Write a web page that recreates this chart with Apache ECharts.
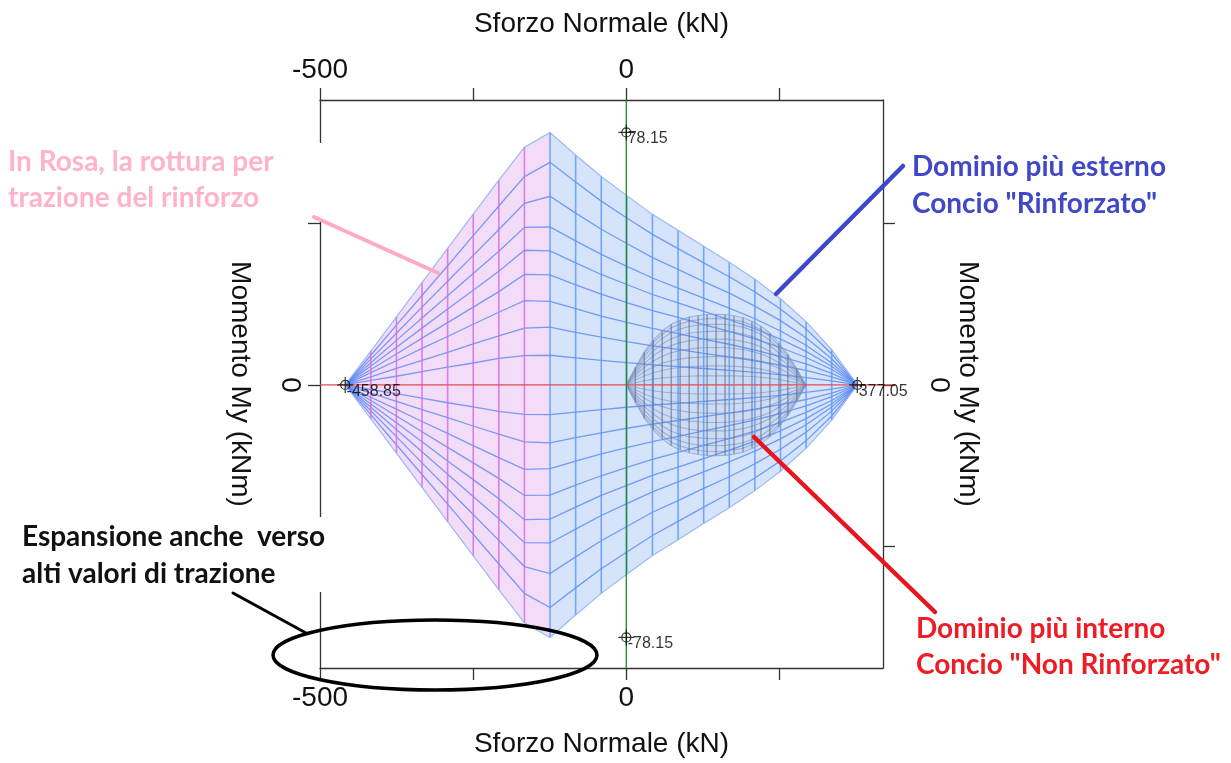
<!DOCTYPE html>
<html><head><meta charset="utf-8">
<script src="https://cdn.jsdelivr.net/npm/echarts@6/dist/echarts.min.js"></script>
<style>html,body{margin:0;padding:0;background:#fff}#c{width:1231px;height:763px}</style>
</head><body><div id="c"></div>
<script>
// ---- outer domain ("Rinforzato"): columns of constant N (kN) ----
const outerN = [-458.85, -417.06, -375.26, -333.47, -291.67, -249.88, -208.08, -166.29, -124.49, -82.70, -40.90, 0.89, 42.69, 84.48, 126.28, 168.07, 209.87, 251.66, 293.46, 335.25, 377.05];
// upper boundary My (kNm) per column (domain is symmetric about My = 0)
const outerTop = [0, 10.5, 21.1, 31.7, 42.3, 52.9, 63.4, 73.6, 78.15, 71.2, 64.5, 58.6, 52.8, 47.9, 42.9, 38.0, 32.7, 26.7, 19.6, 10.9, 0];
// interior mesh curves (upper half), one row per curve
const outerCurves = [
  [0, 1.4, 2.7, 4.1, 5.5, 6.8, 8.2, 9.1, 9.2, 8.4, 7.6, 6.9, 6.2, 5.7, 5.1, 4.5, 3.9, 3.2, 2.3, 1.3, 0],
  [0, 2.5, 5.1, 7.6, 10.1, 12.7, 15.2, 17.6, 17.9, 16.3, 14.8, 13.4, 12.1, 11.0, 9.8, 8.7, 7.5, 6.1, 4.5, 2.5, 0],
  [0, 3.8, 7.5, 11.3, 15.0, 18.8, 22.5, 26.1, 25.9, 23.6, 21.3, 19.4, 17.5, 15.9, 14.2, 12.6, 10.8, 8.8, 6.5, 3.6, 0],
  [0, 4.8, 9.6, 14.5, 19.3, 24.1, 28.9, 34.2, 34.1, 31.0, 28.1, 25.5, 23.0, 20.9, 18.7, 16.6, 14.3, 11.6, 8.5, 4.8, 0],
  [0, 5.9, 11.7, 17.6, 23.5, 29.3, 35.2, 41.7, 41.5, 37.8, 34.2, 31.1, 28.0, 25.4, 22.8, 20.2, 17.4, 14.2, 10.4, 5.8, 0],
  [0, 6.9, 13.8, 20.7, 27.6, 34.5, 41.4, 48.8, 48.9, 44.6, 40.4, 36.7, 33.1, 30.0, 26.9, 23.8, 20.5, 16.7, 12.3, 6.8, 0],
  [0, 8.0, 16.0, 24.1, 32.1, 40.1, 48.1, 56.2, 58.4, 53.2, 48.2, 43.8, 39.4, 35.8, 32.0, 28.4, 24.4, 19.9, 14.6, 8.1, 0],
  [0, 9.2, 18.5, 27.7, 36.9, 46.2, 55.4, 64.5, 68.9, 62.8, 56.9, 51.7, 46.6, 42.2, 37.8, 33.5, 28.8, 23.5, 17.3, 9.6, 0]
];
const pinkEnd = 8; // last column of the pink zone (rottura per trazione del rinforzo)

// ---- inner domain ("Non Rinforzato") ----
const innerN = [0, 14.7, 29.3, 44.0, 58.6, 73.3, 87.9, 102.6, 117.2, 131.9, 146.5, 161.2, 175.8, 190.5, 205.1, 219.8, 234.4, 249.1, 263.7, 278.4, 293.0];
const innerTop = [0, 5.4, 10.3, 13.9, 16.7, 18.8, 20.1, 21.0, 21.5, 21.8, 21.9, 21.8, 21.4, 20.8, 19.7, 18.2, 16.0, 13.0, 9.5, 5.0, 0];
const innerCurves = [
  [0, 0.7, 1.3, 1.8, 2.2, 2.4, 2.6, 2.7, 2.8, 2.8, 2.8, 2.8, 2.8, 2.7, 2.6, 2.4, 2.1, 1.7, 1.2, 0.7, 0],
  [0, 1.5, 2.8, 3.8, 4.5, 5.1, 5.4, 5.7, 5.8, 5.9, 5.9, 5.9, 5.8, 5.6, 5.3, 4.9, 4.3, 3.5, 2.6, 1.4, 0],
  [0, 2.2, 4.1, 5.6, 6.7, 7.5, 8.0, 8.4, 8.6, 8.7, 8.8, 8.7, 8.6, 8.3, 7.9, 7.3, 6.4, 5.2, 3.8, 2.0, 0],
  [0, 2.9, 5.5, 7.4, 8.9, 10.0, 10.7, 11.1, 11.4, 11.6, 11.6, 11.6, 11.3, 11.0, 10.4, 9.6, 8.5, 6.9, 5.0, 2.7, 0],
  [0, 3.5, 6.7, 9.0, 10.9, 12.2, 13.1, 13.7, 14.0, 14.2, 14.2, 14.2, 13.9, 13.5, 12.8, 11.8, 10.4, 8.5, 6.2, 3.3, 0],
  [0, 4.1, 7.8, 10.6, 12.7, 14.3, 15.3, 16.0, 16.3, 16.6, 16.6, 16.6, 16.3, 15.8, 15.0, 13.8, 12.2, 9.9, 7.2, 3.8, 0],
  [0, 4.6, 8.9, 12.0, 14.4, 16.2, 17.3, 18.1, 18.5, 18.7, 18.8, 18.7, 18.4, 17.9, 16.9, 15.7, 13.8, 11.2, 8.2, 4.3, 0],
  [0, 5.1, 9.7, 13.1, 15.7, 17.7, 18.9, 19.7, 20.2, 20.5, 20.6, 20.5, 20.1, 19.6, 18.5, 17.1, 15.0, 12.2, 8.9, 4.7, 0]
];

// labelled points and axis ticks
const markerPoints = [[0, 78.15], [0, -78.15], [-458.85, 0], [377.05, 0]];
const xTicks = [-500, -250, 0, 250];
const xLabels = [-500, 0];
const yTicks = [-50, 0, 50];
const yLabels = [0];

// ---- helpers ----
const range = (a, b) => { const r = []; for (let i = a; i <= b; i++) r.push(i); return r; };
const curve = (ns, ms) => ns.map((n, k) => [n, ms[k]]);
const mirror = pts => pts.map(([n, m]) => [n, -m]);
const poly = (ns, tops, a, b) => range(a, b).map(k => [ns[k], tops[k]]).concat(range(a, b).reverse().map(k => [ns[k], -tops[k]]));
const verticals = (ns, tops, a, b) => range(a, b).map(k => [[ns[k], -tops[k]], [ns[k], tops[k]]]);

const polys = [
  poly(outerN, outerTop, 0, pinkEnd),
  poly(outerN, outerTop, pinkEnd, outerN.length - 1),
  poly(innerN, innerTop, 0, innerN.length - 1)
];
const polyFill = ['#f3dcf8', '#d5e4fb', 'rgba(120,150,200,0.10)'];

const outerMesh = [];
outerCurves.forEach(c => { const u = curve(outerN, c); outerMesh.push(u, mirror(u)); });
const innerMesh = [];
innerCurves.forEach(c => { const u = curve(innerN, c); innerMesh.push(u, mirror(u)); });
const outerOutline = [curve(outerN, outerTop), mirror(curve(outerN, outerTop))];
const innerOutline = [curve(innerN, innerTop), mirror(curve(innerN, innerTop))];

function linesSeries(list, color, width, z, extra) {
  return Object.assign({
    type: 'lines', coordinateSystem: 'cartesian2d', polyline: true, silent: true, z: z,
    lineStyle: { color: color, width: width, opacity: 1 },
    data: list.map(c => ({ coords: c }))
  }, extra || {});
}

const axisFont = { fontFamily: 'Liberation Sans, Arial, sans-serif', fontSize: 28, color: '#111' };
const axisLineStyle = { color: '#333', width: 1.3 };

function xAxisDef(pos, gap) {
  return {
    type: 'value', position: pos, min: -500, max: 419, interval: 250,
    axisLine: { show: true, onZero: false, lineStyle: axisLineStyle },
    axisTick: { show: true, inside: false, length: 12, lineStyle: axisLineStyle, customValues: xTicks },
    axisLabel: Object.assign({ margin: 16, customValues: xLabels, formatter: v => String(v) }, axisFont),
    splitLine: { show: false },
    name: 'Sforzo Normale (kN)', nameLocation: 'middle', nameGap: gap, nameTextStyle: axisFont
  };
}
function yAxisDef(pos, margin, gap) {
  return {
    type: 'value', position: pos, min: -87.6, max: 88.2,
    axisLine: { show: true, onZero: false, lineStyle: axisLineStyle },
    axisTick: { show: true, inside: false, length: 12, lineStyle: axisLineStyle, customValues: yTicks },
    axisLabel: Object.assign({ margin: margin, rotate: -90, customValues: yLabels }, axisFont),
    splitLine: { show: false },
    name: 'Momento My (kNm)', nameLocation: 'middle', nameGap: gap, nameRotate: -90, nameTextStyle: axisFont
  };
}

const annoFont = 'Lato, "Noto Sans", sans-serif';
function txt(text, x, y, color) {
  return { type: 'text', z: 60, style: { text: text, x: x, y: y, fill: color, font: 'bold 28px ' + annoFont, verticalAlign: 'middle', align: 'left' } };
}
function seg(x1, y1, x2, y2, color, w) {
  return { type: 'line', z: 60, shape: { x1: x1, y1: y1, x2: x2, y2: y2 }, style: { stroke: color, lineWidth: w, lineCap: 'round' } };
}

const chart = echarts.init(document.getElementById('c'), null, { renderer: 'canvas' });
chart.setOption({
  animation: false,
  backgroundColor: '#fff',
  grid: { left: 320, right: 348, top: 100, bottom: 95, containLabel: false },
  xAxis: [xAxisDef('bottom', 62), xAxisDef('top', 62)],
  yAxis: [yAxisDef('left', 16, 66), yAxisDef('right', 42, 66)],
  series: [
    {
      type: 'custom', coordinateSystem: 'cartesian2d', silent: true, z: 1,
      data: polys.map(p => p[0]),
      renderItem: (params, api) => ({
        type: 'polygon',
        shape: { points: polys[params.dataIndex].map(p => api.coord(p)) },
        style: { fill: polyFill[params.dataIndex], stroke: null }
      })
    },
    linesSeries(outerMesh, 'rgba(80,130,245,0.75)', 1.3, 2),
    linesSeries(verticals(outerN, outerTop, 1, pinkEnd - 1), 'rgba(210,110,235,0.85)', 1.6, 3),
    linesSeries(verticals(outerN, outerTop, pinkEnd, outerN.length - 2), 'rgba(95,155,250,0.85)', 1.6, 3),
    linesSeries(outerOutline, 'rgba(140,175,245,0.85)', 1.2, 3),
    linesSeries(innerMesh, 'rgba(115,140,185,0.55)', 1.1, 4),
    linesSeries(verticals(innerN, innerTop, 1, innerN.length - 2), 'rgba(95,105,125,0.6)', 1.5, 4),
    linesSeries(innerOutline, 'rgba(125,150,200,0.6)', 1.1, 4),
    linesSeries([[[-500, 0], [440, 0]]], '#e64a55', 1.3, 5, { clip: false }),
    linesSeries([[[0, -87.6], [0, 88.2]]], '#1c8c1c', 1.3, 5),
    {
      type: 'scatter', z: 8, silent: true, data: markerPoints,
      symbol: 'path://M-8,0H8M0,-8V8M4.5,0A4.5,4.5,0,1,1,-4.5,0A4.5,4.5,0,1,1,4.5,0',
      symbolSize: 16,
      itemStyle: { color: 'rgba(0,0,0,0)', borderColor: '#000', borderWidth: 1.2 },
      label: {
        show: true, position: [10, 7], fontSize: 16, color: '#000', fontFamily: 'Liberation Sans, Arial, sans-serif',
        formatter: p => (p.value[1] !== 0 ? p.value[1] : p.value[0]).toFixed(2)
      }
    }
  ],
  graphic: [
    { type: 'rect', z: 50, shape: { x: 0, y: 143, width: 326, height: 78 }, style: { fill: '#fff' } },
    { type: 'rect', z: 50, shape: { x: 0, y: 517, width: 326, height: 75 }, style: { fill: '#fff' } },
    txt('In Rosa, la rottura per', 8, 162, '#ffb3c8'),
    txt('trazione del rinforzo', 8, 198, '#ffb3c8'),
    txt('Dominio più esterno', 912, 167, '#4048c8'),
    txt('Concio "Rinforzato"', 912, 204, '#4048c8'),
    txt('Dominio più interno', 916, 629, '#ee1c25'),
    txt('Concio "Non Rinforzato"', 916, 665, '#ee1c25'),
    txt('Espansione anche  verso', 22, 537, '#111'),
    txt('alti valori di trazione', 22, 574, '#111'),
    seg(314, 217, 438, 273, '#ffaac2', 4),
    seg(776, 294, 903, 166, '#3b48cc', 4.5),
    seg(754, 437, 935, 612, '#e8141e', 4.5),
    seg(233, 593, 306, 633, '#000', 3),
    { type: 'ellipse', z: 60, shape: { cx: 435, cy: 655, rx: 162, ry: 35 }, style: { fill: 'none', stroke: '#000', lineWidth: 3.5 } }
  ]
});
</script></body></html>
